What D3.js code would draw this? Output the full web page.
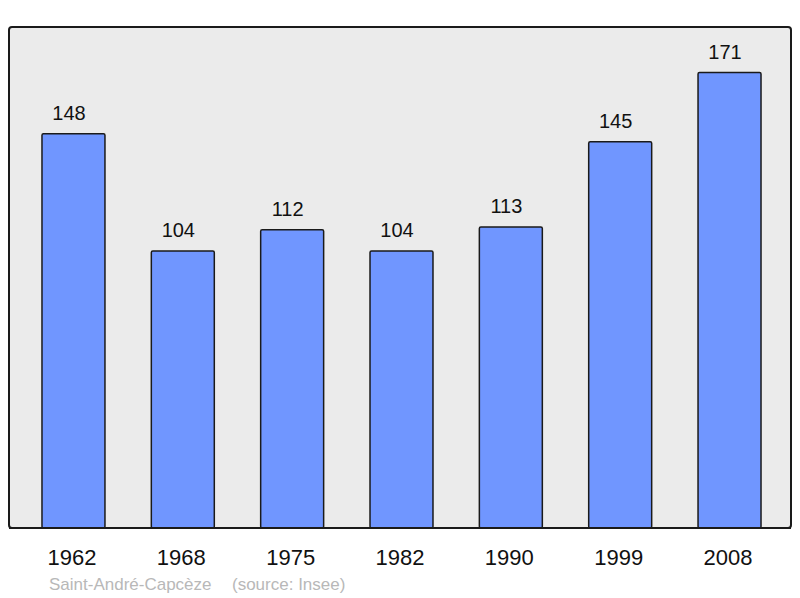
<!DOCTYPE html>
<html><head><meta charset="utf-8">
<script src="https://cdn.jsdelivr.net/npm/d3@7"></script>
<style>html,body{margin:0;padding:0;background:#fff;}svg{display:block;}</style>
</head><body>
<svg id="c" width="800" height="598"></svg>
<script>
const years = ["1962","1968","1975","1982","1990","1999","2008"];
const population = [148,104,112,104,113,145,171];
const captionPlace = "Saint-André-Capcèze";
const captionSource = "(source: Insee)";

const svg = d3.select("#c");
const frame = {x0: 9, x1: 791, y0: 27, y1: 528};
const font = "Liberation Sans, Arial, sans-serif";

svg.append("rect")
  .attr("x", frame.x0).attr("y", frame.y0)
  .attr("width", frame.x1 - frame.x0).attr("height", frame.y1 - frame.y0)
  .attr("rx", 3).attr("ry", 3)
  .attr("fill", "#ebebeb").attr("stroke", "#1a1a1a").attr("stroke-width", 2);

const x = d3.scaleBand().domain(years).range([18.8, 784.2])
  .paddingInner(0.424).paddingOuter(0.212);
const y = d3.scaleLinear().domain([0, d3.max(population) * 1.1]).range([frame.y1, frame.y0]);

const data = years.map((yr, i) => ({yr, v: population[i]}));

svg.append("g").selectAll("rect").data(data).join("rect")
  .attr("x", d => x(d.yr)).attr("y", d => y(d.v))
  .attr("width", x.bandwidth()).attr("height", d => y(0) - y(d.v))
  .attr("rx", 1.5)
  .attr("fill", "#7096ff").attr("stroke", "#1a1a1a").attr("stroke-width", 1.5);

svg.append("g").selectAll("text").data(data).join("text")
  .attr("x", d => x(d.yr) + x.bandwidth() / 2 - 4.5).attr("y", d => y(d.v) - 14)
  .attr("text-anchor", "middle")
  .attr("font-family", font).attr("font-size", 20)
  .attr("fill", "#111").text(d => d.v);

svg.append("line").attr("x1", frame.x0).attr("x2", frame.x1)
  .attr("y1", frame.y1).attr("y2", frame.y1)
  .attr("stroke", "#1a1a1a").attr("stroke-width", 2);

const xAxis = d3.axisBottom(x).tickSize(0).tickPadding(0);
const ax = svg.append("g").attr("transform", `translate(0, ${frame.y1})`).call(xAxis);
ax.select(".domain").remove();
ax.selectAll("text")
  .attr("y", 37).attr("dy", null).attr("x", -1.5)
  .attr("font-family", font).attr("font-size", 22)
  .attr("fill", "#111");

svg.append("text").attr("x", 49).attr("y", 590)
  .attr("font-family", font).attr("font-size", 17)
  .attr("fill", "#b8b8b8").text(captionPlace);
svg.append("text").attr("x", 232).attr("y", 590)
  .attr("font-family", font).attr("font-size", 17)
  .attr("fill", "#b8b8b8").text(captionSource);
</script>
</body></html>
